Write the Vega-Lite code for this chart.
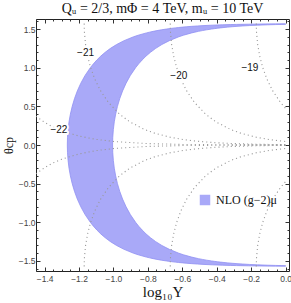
{
  "$schema": "https://vega.github.io/schema/vega-lite/v6.json",
  "width": 253,
  "height": 252,
  "autosize": {"type": "none"},
  "padding": {"left": 36, "top": 19, "right": 2, "bottom": 32},
  "background": "white",
  "title": {"text": "Qᵤ = 2/3,  mΦ = 4 TeV,  mᵤ = 10 TeV", "font": "Liberation Serif", "fontSize": 14, "fontWeight": "normal", "color": "#111", "anchor": "middle", "offset": 3},
  "config": {
    "view": {"stroke": "#222", "strokeWidth": 1},
    "axis": {"grid": false, "domain": false, "tickColor": "#333", "labelFont": "Liberation Sans", "labelFontSize": 8.5, "labelColor": "#444", "labelFlush": false, "titleFontWeight": "normal", "titleColor": "#111"}
  },
  "datasets": {
    "band": [
      {"t": -1.5679, "a": 0, "b": 0},
      {"t": -1.567, "a": -0.0577, "b": 0},
      {"t": -1.565, "a": -0.1496, "b": 0},
      {"t": -1.563, "a": -0.214, "b": 0},
      {"t": -1.561, "a": -0.2635, "b": 0},
      {"t": -1.56, "a": -0.2846, "b": -0.0216},
      {"t": -1.558, "a": -0.3216, "b": -0.0586},
      {"t": -1.555, "a": -0.3673, "b": -0.1043},
      {"t": -1.55, "a": -0.4269, "b": -0.1639},
      {"t": -1.545, "a": -0.4738, "b": -0.2108},
      {"t": -1.54, "a": -0.5122, "b": -0.2492},
      {"t": -1.535, "a": -0.5449, "b": -0.2819},
      {"t": -1.53, "a": -0.5733, "b": -0.3103},
      {"t": -1.525, "a": -0.5983, "b": -0.3353},
      {"t": -1.52, "a": -0.6208, "b": -0.3578},
      {"t": -1.515, "a": -0.6412, "b": -0.3782},
      {"t": -1.51, "a": -0.6598, "b": -0.3968},
      {"t": -1.505, "a": -0.6769, "b": -0.4139},
      {"t": -1.5, "a": -0.6928, "b": -0.4298},
      {"t": -1.49, "a": -0.7215, "b": -0.4585},
      {"t": -1.48, "a": -0.7467, "b": -0.4837},
      {"t": -1.47, "a": -0.7694, "b": -0.5064},
      {"t": -1.46, "a": -0.7898, "b": -0.5268},
      {"t": -1.45, "a": -0.8085, "b": -0.5455},
      {"t": -1.42, "a": -0.8564, "b": -0.5934},
      {"t": -1.4, "a": -0.8832, "b": -0.6202},
      {"t": -1.35, "a": -0.9382, "b": -0.6752},
      {"t": -1.3, "a": -0.9817, "b": -0.7187},
      {"t": -1.25, "a": -1.0174, "b": -0.7544},
      {"t": -1.2, "a": -1.0476, "b": -0.7846},
      {"t": -1.15, "a": -1.0736, "b": -0.8106},
      {"t": -1.1, "a": -1.0963, "b": -0.8333},
      {"t": -1.05, "a": -1.1164, "b": -0.8534},
      {"t": -1.0, "a": -1.1343, "b": -0.8713},
      {"t": -0.9, "a": -1.1648, "b": -0.9018},
      {"t": -0.8, "a": -1.1895, "b": -0.9265},
      {"t": -0.7, "a": -1.2098, "b": -0.9468},
      {"t": -0.6, "a": -1.2263, "b": -0.9633},
      {"t": -0.5, "a": -1.2396, "b": -0.9767},
      {"t": -0.4, "a": -1.2501, "b": -0.9871},
      {"t": -0.3, "a": -1.2581, "b": -0.9951},
      {"t": -0.2, "a": -1.2636, "b": -1.0006},
      {"t": -0.1, "a": -1.2669, "b": -1.0039},
      {"t": 0, "a": -1.268, "b": -1.005},
      {"t": 0.1, "a": -1.2669, "b": -1.0039},
      {"t": 0.2, "a": -1.2636, "b": -1.0006},
      {"t": 0.3, "a": -1.2581, "b": -0.9951},
      {"t": 0.4, "a": -1.2501, "b": -0.9871},
      {"t": 0.5, "a": -1.2396, "b": -0.9767},
      {"t": 0.6, "a": -1.2263, "b": -0.9633},
      {"t": 0.7, "a": -1.2098, "b": -0.9468},
      {"t": 0.8, "a": -1.1895, "b": -0.9265},
      {"t": 0.9, "a": -1.1648, "b": -0.9018},
      {"t": 1.0, "a": -1.1343, "b": -0.8713},
      {"t": 1.05, "a": -1.1164, "b": -0.8534},
      {"t": 1.1, "a": -1.0963, "b": -0.8333},
      {"t": 1.15, "a": -1.0736, "b": -0.8106},
      {"t": 1.2, "a": -1.0476, "b": -0.7846},
      {"t": 1.25, "a": -1.0174, "b": -0.7544},
      {"t": 1.3, "a": -0.9817, "b": -0.7187},
      {"t": 1.35, "a": -0.9382, "b": -0.6752},
      {"t": 1.4, "a": -0.8832, "b": -0.6202},
      {"t": 1.42, "a": -0.8564, "b": -0.5934},
      {"t": 1.45, "a": -0.8085, "b": -0.5455},
      {"t": 1.46, "a": -0.7898, "b": -0.5268},
      {"t": 1.47, "a": -0.7694, "b": -0.5064},
      {"t": 1.48, "a": -0.7467, "b": -0.4837},
      {"t": 1.49, "a": -0.7215, "b": -0.4585},
      {"t": 1.5, "a": -0.6928, "b": -0.4298},
      {"t": 1.505, "a": -0.6769, "b": -0.4139},
      {"t": 1.51, "a": -0.6598, "b": -0.3968},
      {"t": 1.515, "a": -0.6412, "b": -0.3782},
      {"t": 1.52, "a": -0.6208, "b": -0.3578},
      {"t": 1.525, "a": -0.5983, "b": -0.3353},
      {"t": 1.53, "a": -0.5733, "b": -0.3103},
      {"t": 1.535, "a": -0.5449, "b": -0.2819},
      {"t": 1.54, "a": -0.5122, "b": -0.2492},
      {"t": 1.545, "a": -0.4738, "b": -0.2108},
      {"t": 1.55, "a": -0.4269, "b": -0.1639},
      {"t": 1.555, "a": -0.3673, "b": -0.1043},
      {"t": 1.558, "a": -0.3216, "b": -0.0586},
      {"t": 1.56, "a": -0.2846, "b": -0.0216},
      {"t": 1.561, "a": -0.2635, "b": 0},
      {"t": 1.563, "a": -0.214, "b": 0},
      {"t": 1.565, "a": -0.1496, "b": 0},
      {"t": 1.567, "a": -0.0577, "b": 0},
      {"t": 1.5679, "a": 0, "b": 0}
    ],
    "cont": [
      {"id": "22u", "x": -1.45, "t": 0.3717}, {"id": "22u", "x": -1.4, "t": 0.2926}, {"id": "22u", "x": -1.35, "t": 0.2312}, {"id": "22u", "x": -1.3, "t": 0.183}, {"id": "22u", "x": -1.2, "t": 0.1151}, {"id": "22u", "x": -1.1, "t": 0.0725}, {"id": "22u", "x": -1.0, "t": 0.0457}, {"id": "22u", "x": -0.8, "t": 0.0182}, {"id": "22u", "x": -0.6, "t": 0.0072}, {"id": "22u", "x": -0.3, "t": 0.0018}, {"id": "22u", "x": 0, "t": 0.0005},
      {"id": "22l", "x": -1.45, "t": -0.3717}, {"id": "22l", "x": -1.4, "t": -0.2926}, {"id": "22l", "x": -1.35, "t": -0.2312}, {"id": "22l", "x": -1.3, "t": -0.183}, {"id": "22l", "x": -1.2, "t": -0.1151}, {"id": "22l", "x": -1.1, "t": -0.0725}, {"id": "22l", "x": -1.0, "t": -0.0457}, {"id": "22l", "x": -0.8, "t": -0.0182}, {"id": "22l", "x": -0.6, "t": -0.0072}, {"id": "22l", "x": -0.3, "t": -0.0018}, {"id": "22l", "x": 0, "t": -0.0005},
      {"id": "21u", "x": -1.17, "t": 1.5708}, {"id": "21u", "x": -1.1697, "t": 1.52}, {"id": "21u", "x": -1.1684, "t": 1.45}, {"id": "21u", "x": -1.1619, "t": 1.3}, {"id": "21u", "x": -1.1502, "t": 1.15}, {"id": "21u", "x": -1.1325, "t": 1.0}, {"id": "21u", "x": -1.1079, "t": 0.85}, {"id": "21u", "x": -1.0745, "t": 0.7}, {"id": "21u", "x": -1.0291, "t": 0.55}, {"id": "21u", "x": -0.9652, "t": 0.4}, {"id": "21u", "x": -0.9053, "t": 0.3}, {"id": "21u", "x": -0.8191, "t": 0.2}, {"id": "21u", "x": -0.7572, "t": 0.15}, {"id": "21u", "x": -0.6696, "t": 0.1}, {"id": "21u", "x": -0.5924, "t": 0.07}, {"id": "21u", "x": -0.5194, "t": 0.05}, {"id": "21u", "x": -0.4085, "t": 0.03}, {"id": "21u", "x": -0.3205, "t": 0.02}, {"id": "21u", "x": -0.2096, "t": 0.012}, {"id": "21u", "x": -0.1215, "t": 0.008}, {"id": "21u", "x": 0, "t": 0.0046},
      {"id": "21l", "x": -1.17, "t": -1.5708}, {"id": "21l", "x": -1.1697, "t": -1.52}, {"id": "21l", "x": -1.1684, "t": -1.45}, {"id": "21l", "x": -1.1619, "t": -1.3}, {"id": "21l", "x": -1.1502, "t": -1.15}, {"id": "21l", "x": -1.1325, "t": -1.0}, {"id": "21l", "x": -1.1079, "t": -0.85}, {"id": "21l", "x": -1.0745, "t": -0.7}, {"id": "21l", "x": -1.0291, "t": -0.55}, {"id": "21l", "x": -0.9652, "t": -0.4}, {"id": "21l", "x": -0.9053, "t": -0.3}, {"id": "21l", "x": -0.8191, "t": -0.2}, {"id": "21l", "x": -0.7572, "t": -0.15}, {"id": "21l", "x": -0.6696, "t": -0.1}, {"id": "21l", "x": -0.5924, "t": -0.07}, {"id": "21l", "x": -0.5194, "t": -0.05}, {"id": "21l", "x": -0.4085, "t": -0.03}, {"id": "21l", "x": -0.3205, "t": -0.02}, {"id": "21l", "x": -0.2096, "t": -0.012}, {"id": "21l", "x": -0.1215, "t": -0.008}, {"id": "21l", "x": 0, "t": -0.0046},
      {"id": "20u", "x": -0.67, "t": 1.5708}, {"id": "20u", "x": -0.6697, "t": 1.52}, {"id": "20u", "x": -0.6684, "t": 1.45}, {"id": "20u", "x": -0.6619, "t": 1.3}, {"id": "20u", "x": -0.6502, "t": 1.15}, {"id": "20u", "x": -0.6325, "t": 1.0}, {"id": "20u", "x": -0.6079, "t": 0.85}, {"id": "20u", "x": -0.5745, "t": 0.7}, {"id": "20u", "x": -0.5291, "t": 0.55}, {"id": "20u", "x": -0.4652, "t": 0.4}, {"id": "20u", "x": -0.4053, "t": 0.3}, {"id": "20u", "x": -0.3191, "t": 0.2}, {"id": "20u", "x": -0.2572, "t": 0.15}, {"id": "20u", "x": -0.1696, "t": 0.1}, {"id": "20u", "x": -0.0924, "t": 0.07}, {"id": "20u", "x": -0.0194, "t": 0.05}, {"id": "20u", "x": 0, "t": 0.0457},
      {"id": "20l", "x": -0.67, "t": -1.5708}, {"id": "20l", "x": -0.6697, "t": -1.52}, {"id": "20l", "x": -0.6684, "t": -1.45}, {"id": "20l", "x": -0.6619, "t": -1.3}, {"id": "20l", "x": -0.6502, "t": -1.15}, {"id": "20l", "x": -0.6325, "t": -1.0}, {"id": "20l", "x": -0.6079, "t": -0.85}, {"id": "20l", "x": -0.5745, "t": -0.7}, {"id": "20l", "x": -0.5291, "t": -0.55}, {"id": "20l", "x": -0.4652, "t": -0.4}, {"id": "20l", "x": -0.4053, "t": -0.3}, {"id": "20l", "x": -0.3191, "t": -0.2}, {"id": "20l", "x": -0.2572, "t": -0.15}, {"id": "20l", "x": -0.1696, "t": -0.1}, {"id": "20l", "x": -0.0924, "t": -0.07}, {"id": "20l", "x": -0.0194, "t": -0.05}, {"id": "20l", "x": 0, "t": -0.0457},
      {"id": "19u", "x": -0.17, "t": 1.5708}, {"id": "19u", "x": -0.1697, "t": 1.52}, {"id": "19u", "x": -0.1684, "t": 1.45}, {"id": "19u", "x": -0.1619, "t": 1.3}, {"id": "19u", "x": -0.1502, "t": 1.15}, {"id": "19u", "x": -0.1325, "t": 1.0}, {"id": "19u", "x": -0.1079, "t": 0.85}, {"id": "19u", "x": -0.0745, "t": 0.7}, {"id": "19u", "x": -0.0291, "t": 0.55}, {"id": "19u", "x": -0.0104, "t": 0.5}, {"id": "19u", "x": 0, "t": 0.4748},
      {"id": "19l", "x": -0.17, "t": -1.5708}, {"id": "19l", "x": -0.1697, "t": -1.52}, {"id": "19l", "x": -0.1684, "t": -1.45}, {"id": "19l", "x": -0.1619, "t": -1.3}, {"id": "19l", "x": -0.1502, "t": -1.15}, {"id": "19l", "x": -0.1325, "t": -1.0}, {"id": "19l", "x": -0.1079, "t": -0.85}, {"id": "19l", "x": -0.0745, "t": -0.7}, {"id": "19l", "x": -0.0291, "t": -0.55}, {"id": "19l", "x": -0.0104, "t": -0.5}, {"id": "19l", "x": 0, "t": -0.4748}
    ],
    "labs": [
      {"lx": -1.317, "ly": 0.194, "lab": "−22"},
      {"lx": -1.162, "ly": 1.19, "lab": "−21"},
      {"lx": -0.62, "ly": 0.89, "lab": "−20"},
      {"lx": -0.207, "ly": 0.99, "lab": "−19"}
    ]
  },
  "layer": [
    {
      "data": {"name": "band"},
      "mark": {"type": "area", "orient": "horizontal", "stroke": "#9090f3", "strokeWidth": 0.8, "clip": true},
      "encoding": {
        "y": {"field": "t", "type": "quantitative", "scale": {"domain": [-1.63, 1.63], "nice": false, "zero": false},
          "axis": {"orient": "left", "values": [-1.5, -1, -0.5, 0, 0.5, 1, 1.5], "format": ".1f", "tickSize": -4, "labelPadding": 5, "title": "θcp", "titleFont": "Liberation Serif", "titleFontSize": 12, "titlePadding": 3}},
        "x": {"field": "a", "type": "quantitative", "scale": {"domain": [-1.45, 0.02], "nice": false, "zero": false},
          "axis": {"orient": "bottom", "values": [-1.4, -1.2, -1, -0.8, -0.6, -0.4, -0.2, 0], "format": ".1f", "tickSize": -4, "labelPadding": 7, "title": "log₁₀Y", "titleFont": "Liberation Serif", "titleFontSize": 15, "titlePadding": 2}},
        "x2": {"field": "b"},
        "color": {"datum": "NLO (g−2)μ", "type": "nominal", "scale": {"range": ["#a9a9f8"]},
          "legend": {"orient": "none", "legendX": 163, "legendY": 175, "title": null, "symbolType": "square", "symbolSize": 110, "symbolStrokeWidth": 0, "symbolOpacity": 1, "labelFont": "Liberation Serif", "labelFontSize": 12, "labelColor": "#111", "labelOffset": 5, "padding": 0}}
      }
    },
    {
      "data": {"name": "cont"},
      "mark": {"type": "line", "color": "#9a9a9a", "strokeWidth": 1.1, "strokeDash": [1.1, 3], "clip": true},
      "encoding": {
        "x": {"field": "x", "type": "quantitative", "scale": {"domain": [-1.45, 0.02], "nice": false, "zero": false},
          "axis": {"orient": "bottom", "values": [-1.45, -1.35, -1.3, -1.25, -1.15, -1.1, -1.05, -0.95, -0.9, -0.85, -0.75, -0.7, -0.65, -0.55, -0.5, -0.45, -0.35, -0.3, -0.25, -0.15, -0.1, -0.05], "tickSize": -2, "labels": false, "title": null}},
        "y": {"field": "t", "type": "quantitative", "scale": {"domain": [-1.63, 1.63], "nice": false, "zero": false},
          "axis": {"orient": "left", "values": [-1.4, -1.3, -1.2, -1.1, -0.9, -0.8, -0.7, -0.6, -0.4, -0.3, -0.2, -0.1, 0.1, 0.2, 0.3, 0.4, 0.6, 0.7, 0.8, 0.9, 1.1, 1.2, 1.3, 1.4, 1.6, -1.6], "tickSize": -2, "labels": false, "title": null}},
        "detail": {"field": "id", "type": "nominal"}
      }
    },
    {
      "data": {"name": "labs"},
      "mark": {"type": "text", "font": "Liberation Sans", "fontSize": 10, "fill": "white", "stroke": "white", "strokeWidth": 4, "strokeJoin": "round"},
      "encoding": {
        "x": {"field": "lx", "type": "quantitative", "scale": {"domain": [-1.45, 0.02], "nice": false, "zero": false},
          "axis": {"orient": "top", "values": [-1.4, -1.2, -1, -0.8, -0.6, -0.4, -0.2, 0], "tickSize": -4, "labels": false, "title": null}},
        "y": {"field": "ly", "type": "quantitative", "scale": {"domain": [-1.63, 1.63], "nice": false, "zero": false},
          "axis": {"orient": "right", "values": [-1.5, -1, -0.5, 0, 0.5, 1, 1.5], "tickSize": -4, "labels": false, "title": null}},
        "text": {"field": "lab", "type": "nominal"}
      }
    },
    {
      "data": {"name": "labs"},
      "mark": {"type": "text", "font": "Liberation Sans", "fontSize": 10, "color": "#111"},
      "encoding": {
        "x": {"field": "lx", "type": "quantitative", "scale": {"domain": [-1.45, 0.02], "nice": false, "zero": false},
          "axis": {"orient": "top", "values": [-1.45, -1.35, -1.3, -1.25, -1.15, -1.1, -1.05, -0.95, -0.9, -0.85, -0.75, -0.7, -0.65, -0.55, -0.5, -0.45, -0.35, -0.3, -0.25, -0.15, -0.1, -0.05], "tickSize": -2, "labels": false, "title": null}},
        "y": {"field": "ly", "type": "quantitative", "scale": {"domain": [-1.63, 1.63], "nice": false, "zero": false},
          "axis": {"orient": "right", "values": [-1.4, -1.3, -1.2, -1.1, -0.9, -0.8, -0.7, -0.6, -0.4, -0.3, -0.2, -0.1, 0.1, 0.2, 0.3, 0.4, 0.6, 0.7, 0.8, 0.9, 1.1, 1.2, 1.3, 1.4, 1.6, -1.6], "tickSize": -2, "labels": false, "title": null}},
        "text": {"field": "lab", "type": "nominal"}
      }
    }
  ],
  "resolve": {"axis": {"x": "independent", "y": "independent"}}
}
